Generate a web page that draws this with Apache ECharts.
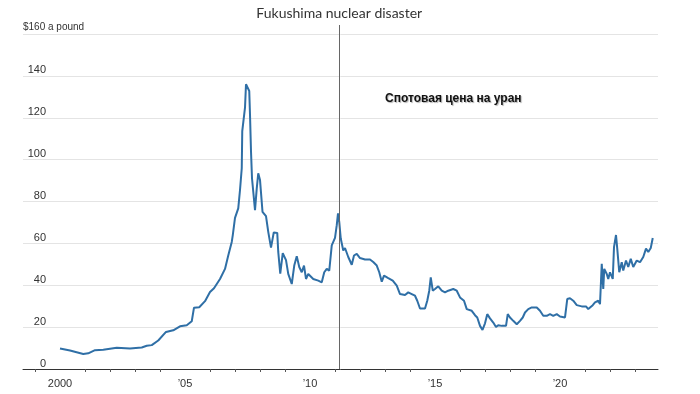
<!DOCTYPE html>
<html>
<head>
<meta charset="utf-8">
<script src="https://cdn.jsdelivr.net/npm/echarts@6/dist/echarts.min.js"></script>
<style>html,body{margin:0;padding:0;background:#fff}#c{width:700px;height:394px}</style>
</head>
<body>
<div id="c"></div>
<script>
// Decimal years of each observation
var years = [2000.0,2000.4,2000.93,2001.13,2001.4,2001.73,2002.27,2002.8,2003.27,2003.47,2003.67,2003.93,2004.24,2004.53,2004.8,2005.07,2005.27,2005.36,2005.57,2005.8,2006.0,2006.16,2006.4,2006.6,2006.73,2006.87,2006.91,2007.0,2007.07,2007.13,2007.2,2007.27,2007.29,2007.36,2007.4,2007.44,2007.51,2007.57,2007.6,2007.64,2007.68,2007.73,2007.8,2007.87,2007.93,2008.0,2008.07,2008.1,2008.24,2008.33,2008.44,2008.55,2008.69,2008.73,2008.81,2008.91,2009.04,2009.13,2009.27,2009.37,2009.47,2009.57,2009.67,2009.76,2009.84,2009.93,2010.13,2010.33,2010.47,2010.57,2010.67,2010.77,2010.87,2011.0,2011.07,2011.12,2011.17,2011.23,2011.33,2011.4,2011.53,2011.67,2011.76,2011.87,2012.0,2012.2,2012.4,2012.53,2012.67,2012.77,2012.87,2012.96,2013.13,2013.31,2013.47,2013.6,2013.8,2013.93,2014.07,2014.2,2014.29,2014.4,2014.6,2014.69,2014.77,2014.83,2014.91,2015.0,2015.13,2015.27,2015.4,2015.53,2015.73,2015.87,2016.0,2016.16,2016.27,2016.47,2016.6,2016.69,2016.8,2016.9,2017.0,2017.09,2017.2,2017.33,2017.44,2017.53,2017.67,2017.84,2017.91,2018.0,2018.13,2018.27,2018.4,2018.51,2018.6,2018.73,2018.87,2019.07,2019.2,2019.33,2019.47,2019.6,2019.73,2019.87,2020.0,2020.2,2020.29,2020.4,2020.53,2020.67,2020.87,2021.04,2021.13,2021.2,2021.31,2021.4,2021.53,2021.6,2021.67,2021.73,2021.77,2021.87,2021.93,2022.0,2022.11,2022.16,2022.24,2022.29,2022.37,2022.47,2022.53,2022.64,2022.73,2022.83,2022.93,2023.07,2023.2,2023.33,2023.44,2023.53,2023.63,2023.71];
// Uranium spot price, $ a pound
var prices = [9.8,8.8,7.2,7.5,9.0,9.2,10.1,9.8,10.3,11.1,11.4,13.6,17.7,18.5,20.4,20.9,22.8,29.3,29.5,32.4,36.8,38.6,43.0,47.8,54.2,60.7,63.8,72.2,72.7,76.7,85.5,95.9,113.6,114.3,124.8,136,136.8,132.8,121.5,104,91.1,90.3,75.9,86.3,93.5,90.3,90.3,75.1,73,65.5,58,65.2,65,55.9,45.5,55.3,52,45.4,40.6,49.4,53.9,48.7,46.2,49.4,43,45.4,43,42.2,41.4,46.2,47.8,47,59,62.6,68.7,74.3,70.3,62.3,56.6,57.8,53.5,49.8,54.2,55,53,52.3,52.3,51.1,49.4,46.2,41.7,44.6,43.4,42.2,39.8,35.8,35.3,36.6,35.8,35,32.6,28.9,28.9,32.6,37.4,43.8,37.4,38.2,39.5,37.4,36.6,37.4,38.2,37.4,34.2,32.6,28.6,27.8,25.7,24.6,20.6,18.7,21.8,26.2,24.2,22.2,20.1,20.9,20.6,20.6,26.2,24.6,23,21.4,23,24.6,27,28.6,29.4,29.4,27.8,25.4,25.4,26.2,25.4,26.2,25.1,24.6,33.4,33.8,32.6,30.5,29.9,29.9,28.6,27.8,30.5,31.8,32.6,31,50.2,38.2,47.8,45.4,43,46.2,43,58.2,64,57.5,46.2,51,47,51.8,48.7,52.6,48.7,51.8,51,53.5,57.5,55.9,57.8,62.6];
var xLabelYears = [2000, 2005, 2010, 2015, 2020];
var xLabelTexts = ['2000', '\u201905', '\u201910', '\u201915', '\u201920'];
var tickYears = [1999,2001,2002,2003,2004,2006,2007,2008,2009,2011,2012,2013,2014,2016,2017,2018,2019,2021,2022,2023];
var eventYear = 2011.17;
var eventText = 'Fukushima nuclear disaster';
var annotationText = 'Спотовая цена на уран';
var yUnit = '$160 a pound';

var FONT = '"Liberation Sans Narrow", "Liberation Sans", sans-serif';
var chart = echarts.init(document.getElementById('c'), null, {renderer: 'canvas'});
var seriesData = years.map(function (y, i) { return [y, prices[i]]; });

chart.setOption({
  animation: false,
  grid: {left: 23, right: 42, top: 34, bottom: 25},
  xAxis: {
    type: 'value', min: 1998.52, max: 2023.92,
    splitLine: {show: false},
    axisLine: {lineStyle: {color: '#333', width: 1}},
    axisTick: {show: true, length: 3, customValues: tickYears, lineStyle: {color: '#555'}},
    axisLabel: {
      customValues: xLabelYears, margin: 9, color: '#333', fontSize: 11, fontFamily: FONT,
      formatter: function (v) { var i = xLabelYears.indexOf(Math.round(v)); return i >= 0 ? xLabelTexts[i] : ''; }
    }
  },
  yAxis: {
    type: 'value', min: 0, max: 160, interval: 20,
    name: yUnit, nameLocation: 'end', nameGap: 1,
    nameTextStyle: {align: 'left', verticalAlign: 'bottom', color: '#333', fontSize: 10, fontFamily: FONT, padding: [0, 0, 1, 0]},
    axisLine: {show: false}, axisTick: {show: false},
    splitLine: {lineStyle: {color: '#e4e4e4', width: 1}},
    axisLabel: {
      inside: true, align: 'right', verticalAlign: 'bottom', margin: 23, padding: [0, 0, 0, 0],
      color: '#333', fontSize: 11, fontFamily: FONT,
      formatter: function (v) { return v === 160 ? '' : String(v); }
    }
  },
  graphic: [{
    type: 'text', left: 385, top: 93,
    style: {
      text: annotationText, fill: '#111', font: 'bold 12px ' + FONT,
      textShadowColor: 'rgba(0,0,0,0.3)', textShadowOffsetX: 1, textShadowOffsetY: 1, textShadowBlur: 1
    }
  }],
  series: [{
    type: 'line', data: seriesData, showSymbol: false, clip: false,
    lineStyle: {color: '#2f6fa6', width: 2},
    markLine: {
      silent: true, symbol: ['none', 'none'],
      lineStyle: {color: '#666', width: 1, type: 'solid'},
      label: {show: true, position: 'end', distance: 5, formatter: eventText, color: '#333', fontSize: 14, fontFamily: 'Lato, "Noto Sans", sans-serif'},
      data: [[{coord: [eventYear, 0]}, {coord: [eventYear, 160], y: 25}]]
    }
  }]
});
</script>
</body>
</html>
